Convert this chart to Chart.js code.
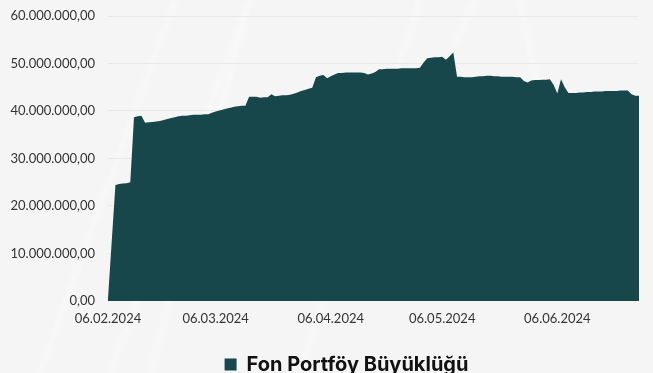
<!DOCTYPE html>
<html lang="tr">
<head>
<meta charset="utf-8">
<title>Fon Portföy Büyüklüğü</title>
<script src="https://cdn.jsdelivr.net/npm/chart.js@4.4.1/dist/chart.umd.min.js"></script>
<style>
  html, body { margin: 0; padding: 0; }
  body {
    width: 653px; height: 373px; overflow: hidden;
    background: #f5f5f5;
  }
  #wrap { position: relative; width: 653px; height: 373px; }
  #bg { position: absolute; left: 0; top: 0; }
  #wrap canvas { position: relative; }
</style>
</head>
<body>
<div id="wrap">
  <!-- faint marble streaks behind the chart -->
  <svg id="bg" width="653" height="373" viewBox="0 0 653 373">
    <defs><filter id="soft"><feGaussianBlur stdDeviation="2"/></filter></defs>
    <g stroke="#fcfcfc" stroke-width="3" fill="none" filter="url(#soft)" opacity="0.7">
      <path d="M40 373 L175 0"/>
      <path d="M110 373 L250 0"/>
      <path d="M250 0 L150 373"/>
      <path d="M455 45 L475 0"/>
      <path d="M560 200 L520 0"/>
      <path d="M300 373 L420 0"/>
    </g>
  </svg>
  <canvas id="chart"></canvas>
</div>
<script>
// Daily fund size, in millions of TL, starting 06.02.2024
const startDate = [2024, 2, 6];
const fundSizeMillions = [
  0.5, 12.5, 24.4, 24.6, 24.7, 24.8, 25.0, 38.7, 38.9, 39.0,
  37.5, 37.6, 37.7, 37.8, 37.9, 38.1, 38.3, 38.5, 38.7, 38.9,
  39.0, 39.0, 39.1, 39.2, 39.2, 39.2, 39.3, 39.3, 39.6, 39.9,
  40.1, 40.3, 40.5, 40.7, 40.9, 41.0, 41.1, 41.1, 43.0, 43.0,
  43.0, 42.8, 42.9, 42.9, 43.5, 43.1, 43.2, 43.3, 43.3, 43.4,
  43.6, 43.9, 44.2, 44.4, 44.7, 44.9, 47.1, 47.4, 47.6, 46.9,
  47.3, 47.7, 48.0, 48.0, 48.1, 48.1, 48.1, 48.1, 48.1, 48.0,
  47.7, 47.9, 48.2, 48.8, 48.8, 48.9, 48.9, 48.9, 48.9, 49.0,
  49.0, 49.0, 49.0, 49.0, 49.1, 50.2, 51.1, 51.2, 51.3, 51.3,
  51.4, 50.8, 51.5, 52.3, 47.2, 47.2, 47.1, 47.1, 47.1, 47.2,
  47.3, 47.3, 47.4, 47.4, 47.3, 47.3, 47.2, 47.2, 47.2, 47.2,
  47.1, 47.1, 46.3, 46.0, 46.4, 46.5, 46.5, 46.6, 46.6, 46.7,
  45.5, 43.7, 46.7, 45.0, 43.8, 43.8, 43.8, 43.9, 43.9, 44.0,
  44.0, 44.1, 44.1, 44.1, 44.2, 44.2, 44.2, 44.2, 44.3, 44.3,
  44.3, 43.5, 43.2, 43.2
];
const yTicks = [0, 10000000, 20000000, 30000000, 40000000, 50000000, 60000000];
const seriesName = 'Fon Portföy Büyüklüğü';

// dd.mm.yyyy labels, one per day
const pad2 = n => String(n).padStart(2, '0');
const dateLabels = fundSizeMillions.map((_, i) => {
  const d = new Date(Date.UTC(startDate[0], startDate[1] - 1, startDate[2] + i));
  return pad2(d.getUTCDate()) + '.' + pad2(d.getUTCMonth() + 1) + '.' + d.getUTCFullYear();
});

// Turkish number format: 60.000.000,00
function formatTR(v) {
  const parts = Math.abs(v).toFixed(2).split('.');
  const intPart = parts[0].replace(/\B(?=(\d{3})+(?!\d))/g, '.');
  return (v < 0 ? '-' : '') + intPart + ',' + parts[1];
}

const teal = '#18474b';

// nudges the legend block to its place under the plot
const legendOffset = {
  id: 'legendOffset',
  afterLayout(chart, args, opts) {
    const lg = chart.legend;
    if (!lg) return;
    lg.left += opts.dx; lg.right += opts.dx;
    lg.top += opts.dy; lg.bottom += opts.dy;
  }
};

new Chart(document.getElementById('chart'), {
  type: 'line',
  data: {
    labels: dateLabels,
    datasets: [{
      label: seriesName,
      data: fundSizeMillions.map(v => v * 1e6),
      backgroundColor: teal,
      borderColor: teal,
      borderWidth: 0,
      pointRadius: 0,
      pointHoverRadius: 0,
      tension: 0,
      fill: 'origin'
    }]
  },
  options: {
    responsive: true,
    maintainAspectRatio: false,
    animation: false,
    layout: { padding: { top: 16, right: 14, left: 10, bottom: 0 } },
    scales: {
      x: {
        grid: { display: false, drawTicks: false },
        border: { display: false },
        ticks: {
          autoSkip: false,
          maxRotation: 0,
          minRotation: 0,
          padding: 10,
          color: '#333',
          font: { family: 'Lato', size: 13 },
          callback(value, index) {
            const lbl = dateLabels[index];
            return lbl.startsWith('06.') ? lbl : '';
          }
        }
      },
      y: {
        min: 0,
        max: 60000000,
        afterBuildTicks(axis) { axis.ticks = yTicks.map(v => ({ value: v })); },
        afterFit(axis) {
          axis.width = 98;
          axis.paddingTop = 0;
          axis.paddingBottom = 0;
        },
        grid: { color: '#e8e8e8', drawTicks: false },
        border: { display: false },
        ticks: {
          padding: 13,
          color: '#333',
          font: { family: 'Lato', size: 13 },
          callback: v => formatTR(v)
        }
      }
    },
    plugins: {
      legend: {
        position: 'bottom',
        labels: {
          boxWidth: 12,
          boxHeight: 12,
          padding: 6.5,
          color: '#111',
          font: { family: 'Inter', size: 20, weight: '700' }
        }
      },
      legendOffset: { dx: 22, dy: 11.5 },
      tooltip: { enabled: false }
    }
  },
  plugins: [legendOffset]
});
</script>
</body>
</html>
